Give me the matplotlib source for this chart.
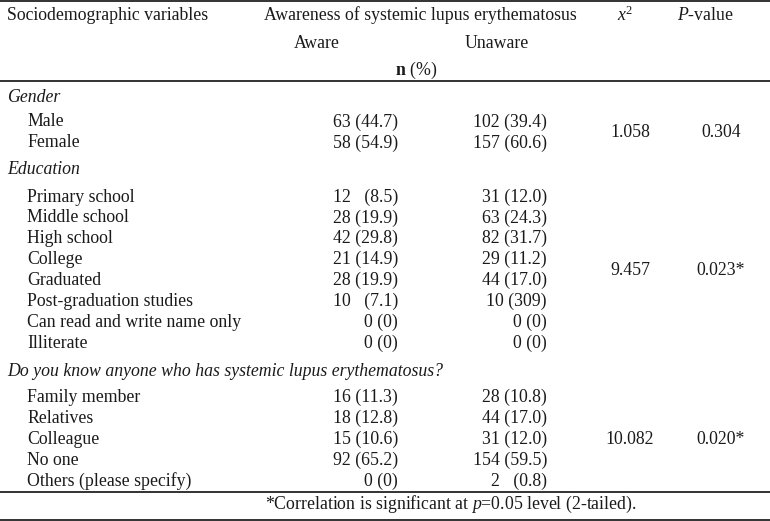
import matplotlib
matplotlib.use("Agg")
import matplotlib.pyplot as plt

plt.rcParams['font.family'] = ['Liberation Serif', 'DejaVu Serif']
plt.rcParams['mathtext.fontset'] = 'custom'
plt.rcParams['mathtext.rm'] = 'Liberation Serif'
plt.rcParams['mathtext.it'] = 'Liberation Serif:italic'
plt.rcParams['mathtext.bf'] = 'Liberation Serif:bold'

# ---- data ----
header_var = "Sociodemographic variables"
header_aw = "Awareness of systemic lupus erythematosus"
header_sub = ["Aware", "Unaware"]
header_unit = r"$\mathbf{n}$ (%)"
header_chi = r"$x^2$"
header_p = r"$P$-value"

group_titles = ["Gender", "Education",
                "Do you know anyone who has systemic lupus erythematosus?"]
gender_labels = ["Male", "Female"]
gender_aware = ["63 (44.7)", "58 (54.9)"]
gender_unaware = ["102 (39.4)", "157 (60.6)"]

edu_labels = ["Primary school", "Middle school", "High school", "College",
              "Graduated", "Post-graduation studies",
              "Can read and write name only", "Illiterate"]
edu_aware = ["12   (8.5)", "28 (19.9)", "42 (29.8)", "21 (14.9)",
             "28 (19.9)", "10   (7.1)", "0 (0)", "0 (0)"]
edu_unaware = ["31 (12.0)", "63 (24.3)", "82 (31.7)", "29 (11.2)",
               "44 (17.0)", "10 (309)", "0 (0)", "0 (0)"]

know_labels = ["Family member", "Relatives", "Colleague", "No one",
               "Others (please specify)"]
know_aware = ["16 (11.3)", "18 (12.8)", "15 (10.6)", "92 (65.2)", "0 (0)"]
know_unaware = ["28 (10.8)", "44 (17.0)", "31 (12.0)", "154 (59.5)", "2   (0.8)"]

chi_values = ["1.058", "9.457", "10.082"]
p_values = ["0.304", "0.023*", "0.020*"]
footnote = "*Correlation is significant at $p$=0.05 level (2-tailed)."

# ---- layout ----
W, H = 770, 521
fig = plt.figure(figsize=(W / 100, H / 100), dpi=100)
ax = fig.add_axes([0, 0, 1, 1])
ax.set_xlim(0, W)
ax.set_ylim(H, 0)
ax.axis('off')

fs = 12.8
col = '#1a1a1a'
x_title = 7
x_item = 27
x_aw = 398
x_un = 547
x_chi = 630
x_p = 721

def txt(x, y, s, ha='left', style='normal', **kw):
    ax.text(x, y, s, ha=ha, va='center', fontsize=fs, color=col,
            fontstyle=style, **kw)

# rules
for y in [1.2, 81, 492, 519.5]:
    ax.plot([0, W], [y, y], color='#222222', lw=1.3, solid_capstyle='butt')

# header
txt(x_title, 15, header_var)
txt(420, 15, header_aw, ha='center')
txt(625, 15, header_chi, ha='center')
txt(705, 15, header_p, ha='center')
txt(317, 44, header_sub[0], ha='center')
txt(497, 44, header_sub[1], ha='center')
txt(416, 70, header_unit, ha='center')

step = 20.9
sections = [
    (97, gender_labels, gender_aware, gender_unaware, 122),
    (170, edu_labels, edu_aware, edu_unaware, 197),
    (371, know_labels, know_aware, know_unaware, 397.5),
]
for i, (ty, labels, aw, un, y0) in enumerate(sections):
    txt(x_title, ty, group_titles[i], style='italic')
    ys = [y0 + k * step for k in range(len(labels))]
    for y, lab, a, u in zip(ys, labels, aw, un):
        txt(x_item, y, lab)
        txt(x_aw, y, a, ha='right')
        txt(x_un, y, u, ha='right')
    ymid = (ys[0] + ys[-1]) / 2
    txt(x_chi, ymid, chi_values[i], ha='center')
    txt(x_p, ymid, p_values[i], ha='center')

txt(451, 504, footnote, ha='center')

fig.savefig("out.png", dpi=100, facecolor='white')
